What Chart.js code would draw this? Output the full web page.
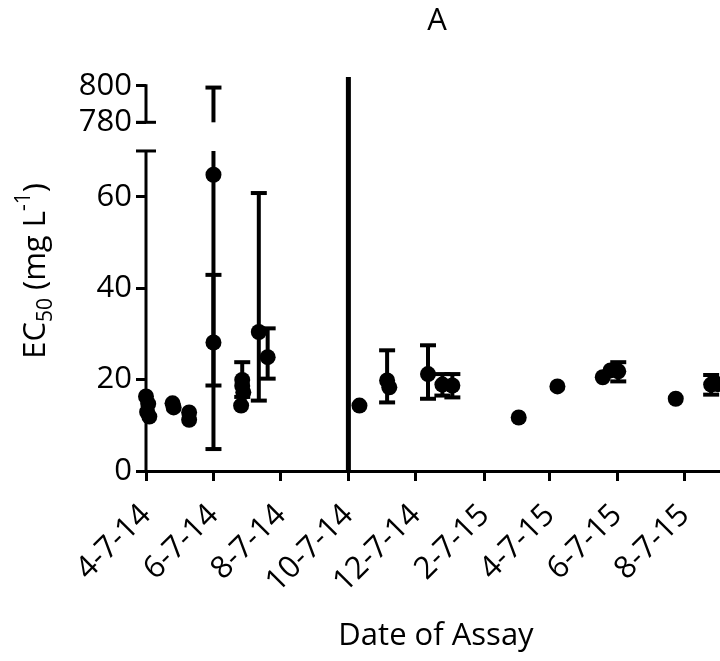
<!DOCTYPE html>
<html>
<head>
<meta charset="utf-8">
<script src="https://cdn.jsdelivr.net/npm/chart.js@4.4.1/dist/chart.umd.min.js"></script>
<style>
  html, body { margin: 0; padding: 0; background: #fff; }
  canvas { display: block; }
</style>
</head>
<body>
<canvas id="ec50Chart" width="720" height="661"></canvas>
<script>
// assay data
const assayDates = [
  '2014-04-07', '2014-04-09', '2014-04-08', '2014-04-10',
  '2014-05-01', '2014-05-02', '2014-05-16', '2014-05-16',
  '2014-06-07', '2014-06-07',
  '2014-07-03', '2014-07-03', '2014-07-04', '2014-07-02',
  '2014-07-18', '2014-07-26',
  '2014-10-17', '2014-11-11', '2014-11-13', '2014-12-18', '2014-12-31', '2015-01-09',
  '2015-03-10', '2015-04-14', '2015-05-25', '2015-06-01', '2015-06-08',
  '2015-07-30', '2015-08-31', '2015-09-06'
];
const ec50 = [
  16.3, 14.7, 12.9, 11.9,
  14.8, 13.9, 12.8, 11.2,
  64.8, 28.1,
  19.9, 18.6, 17.2, 14.3,
  30.4, 24.9,
  14.3, 19.8, 18.3, 21.2, 18.9, 18.7,
  11.7, 18.5, 20.5, 22.0, 21.8,
  15.8, 18.9, 19.0
];
const errLow = [
  null, null, null, null,
  null, null, null, null,
  4.8, 18.7,
  16.2, null, null, null,
  15.4, 20.2,
  null, 15.0, null, 15.8, 16.5, 16.1,
  null, null, null, null, 19.6,
  null, 16.7, null
];
const errHigh = [
  null, null, null, null,
  null, null, null, null,
  799, 42.9,
  23.8, null, null, null,
  60.8, 31.2,
  null, 26.4, null, 27.5, 21.2, 21.2,
  null, null, null, null, 23.8,
  null, 21.0, null
];

const tickDates = ['2014-04-07', '2014-06-07', '2014-08-07', '2014-10-07', '2014-12-07',
                   '2015-02-07', '2015-04-07', '2015-06-07', '2015-08-07'];
const tickLabels = ['4-7-14', '6-7-14', '8-7-14', '10-7-14', '12-7-14',
                    '2-7-15', '4-7-15', '6-7-15', '8-7-15'];
const yTickValues = [0, 20, 40, 60, 780, 800];
const breakDate = '2014-10-07';

// x axis runs in days from the first assay
const startDate = '2014-04-07';
const endDate = '2015-09-08';
const day = s => (Date.parse(s) - Date.parse(startDate)) / 86400000;

// broken y axis: 0-70 below, 780-800 compressed on top
const LOW_TOP = 70, HIGH_BOTTOM = 780;
const HIGH_START = 76.27, HIGH_FACTOR = 0.4;
const Y_MAX = 86.18;
const toAxis = v => v <= LOW_TOP ? v : HIGH_START + (v - HIGH_BOTTOM) * HIGH_FACTOR;
const fromAxis = a => a <= LOW_TOP ? a : Math.round((a - HIGH_START) / HIGH_FACTOR + HIGH_BOTTOM);

const FONT = '"Open Sans", sans-serif';

const errorBars = {
  id: 'errorBars',
  beforeDatasetsDraw(chart) {
    const { ctx, scales: { x, y } } = chart;
    ctx.save();
    ctx.strokeStyle = '#000';
    ctx.lineWidth = 4;
    ctx.lineCap = 'butt';
    const seg = (px, a, b) => {
      ctx.beginPath();
      ctx.moveTo(px, y.getPixelForValue(toAxis(a)));
      ctx.lineTo(px, y.getPixelForValue(toAxis(b)));
      ctx.stroke();
    };
    const cap = (px, v) => {
      const py = y.getPixelForValue(toAxis(v));
      ctx.beginPath();
      ctx.moveTo(px - 8, py);
      ctx.lineTo(px + 8, py);
      ctx.stroke();
    };
    assayDates.forEach((d, i) => {
      if (errLow[i] == null) return;
      const px = x.getPixelForValue(day(d));
      const lo = errLow[i], hi = errHigh[i];
      if (hi > LOW_TOP) {
        seg(px, lo, LOW_TOP);
        seg(px, HIGH_BOTTOM, hi);
      } else {
        seg(px, lo, hi);
      }
      cap(px, lo);
      cap(px, hi);
    });
    ctx.restore();
  }
};

const brokenAxis = {
  id: 'brokenAxis',
  afterDraw(chart) {
    const { ctx, scales: { y } } = chart;
    const px = chart.chartArea.left;
    ctx.save();
    ctx.strokeStyle = '#000';
    ctx.lineWidth = 3;
    const line = (x1, y1, x2, y2) => {
      ctx.beginPath();
      ctx.moveTo(x1, y1);
      ctx.lineTo(x2, y2);
      ctx.stroke();
    };
    const y0 = y.getPixelForValue(0);
    const y70 = y.getPixelForValue(toAxis(LOW_TOP));
    const y780 = y.getPixelForValue(toAxis(HIGH_BOTTOM));
    const y800 = y.getPixelForValue(toAxis(800));
    line(px, y0 + 1.5, px, y70);
    line(px - 10, y70, px + 10, y70);
    line(px, y780, px, y800 - 1.5);
    line(px - 10, y780, px + 10, y780);
    ctx.restore();
  }
};

const axisTitles = {
  id: 'axisTitles',
  afterDraw(chart) {
    const { ctx } = chart;
    ctx.save();
    ctx.fillStyle = '#000';
    ctx.textBaseline = 'alphabetic';

    ctx.textAlign = 'center';
    ctx.font = '31px ' + FONT;
    ctx.fillText('A', 437, 30);
    ctx.fillText('Date of Assay', 436, 645);

    // y title with subscript / superscript
    const parts = [
      { t: 'EC', size: 31, dy: 0 },
      { t: '50', size: 21, dy: 7 },
      { t: ' (mg L', size: 31, dy: 0 },
      { t: '-1', size: 21, dy: -15 },
      { t: ')', size: 31, dy: 0 }
    ];
    ctx.textAlign = 'left';
    let total = 0;
    parts.forEach(p => {
      ctx.font = p.size + 'px ' + FONT;
      p.w = ctx.measureText(p.t).width;
      total += p.w;
    });
    ctx.translate(45, 271);
    ctx.rotate(-Math.PI / 2);
    let cx = -total / 2;
    parts.forEach(p => {
      ctx.font = p.size + 'px ' + FONT;
      ctx.fillText(p.t, cx, p.dy);
      cx += p.w;
    });
    ctx.restore();
  }
};

const ctx = document.getElementById('ec50Chart').getContext('2d');
new Chart(ctx, {
  type: 'scatter',
  data: {
    datasets: [
      {
        label: 'EC50',
        data: assayDates.map((d, i) => ({ x: day(d), y: toAxis(ec50[i]) })),
        pointRadius: 8,
        pointBackgroundColor: '#000',
        pointBorderWidth: 0,
        showLine: false,
        clip: false
      },
      {
        label: 'break',
        data: [{ x: day(breakDate), y: 0 }, { x: day(breakDate), y: Y_MAX }],
        showLine: true,
        borderColor: '#000',
        borderWidth: 5,
        pointRadius: 0
      }
    ]
  },
  options: {
    responsive: false,
    animation: false,
    events: [],
    layout: { autoPadding: false, padding: { top: 77, left: 0, right: 0, bottom: 0 } },
    plugins: {
      legend: { display: false },
      tooltip: { enabled: false }
    },
    scales: {
      x: {
        type: 'linear',
        min: 0,
        max: day(endDate),
        afterBuildTicks: s => { s.ticks = tickDates.map(d => ({ value: day(d) })); },
        afterFit: s => { s.height = 190; s.paddingLeft = 0; s.paddingRight = 0; },
        grid: { drawOnChartArea: false, drawTicks: true, tickLength: 10, tickWidth: 3, tickColor: '#000' },
        border: { display: true, width: 3, color: '#000' },
        ticks: {
          minRotation: 45,
          maxRotation: 45,
          padding: 16,
          color: '#000',
          font: { family: FONT, size: 31 },
          callback: (v, i) => tickLabels[i]
        }
      },
      y: {
        type: 'linear',
        min: 0,
        max: Y_MAX,
        afterBuildTicks: s => { s.ticks = yTickValues.map(v => ({ value: toAxis(v) })); },
        afterFit: s => { s.width = 146; s.paddingTop = 0; s.paddingBottom = 0; },
        grid: { drawOnChartArea: false, drawTicks: true, tickLength: 10, tickWidth: 3, tickColor: '#000' },
        border: { display: false },
        ticks: {
          padding: 4,
          color: '#000',
          font: { family: FONT, size: 31 },
          callback: v => String(fromAxis(v))
        }
      }
    }
  },
  plugins: [errorBars, brokenAxis, axisTitles]
});
</script>
</body>
</html>
